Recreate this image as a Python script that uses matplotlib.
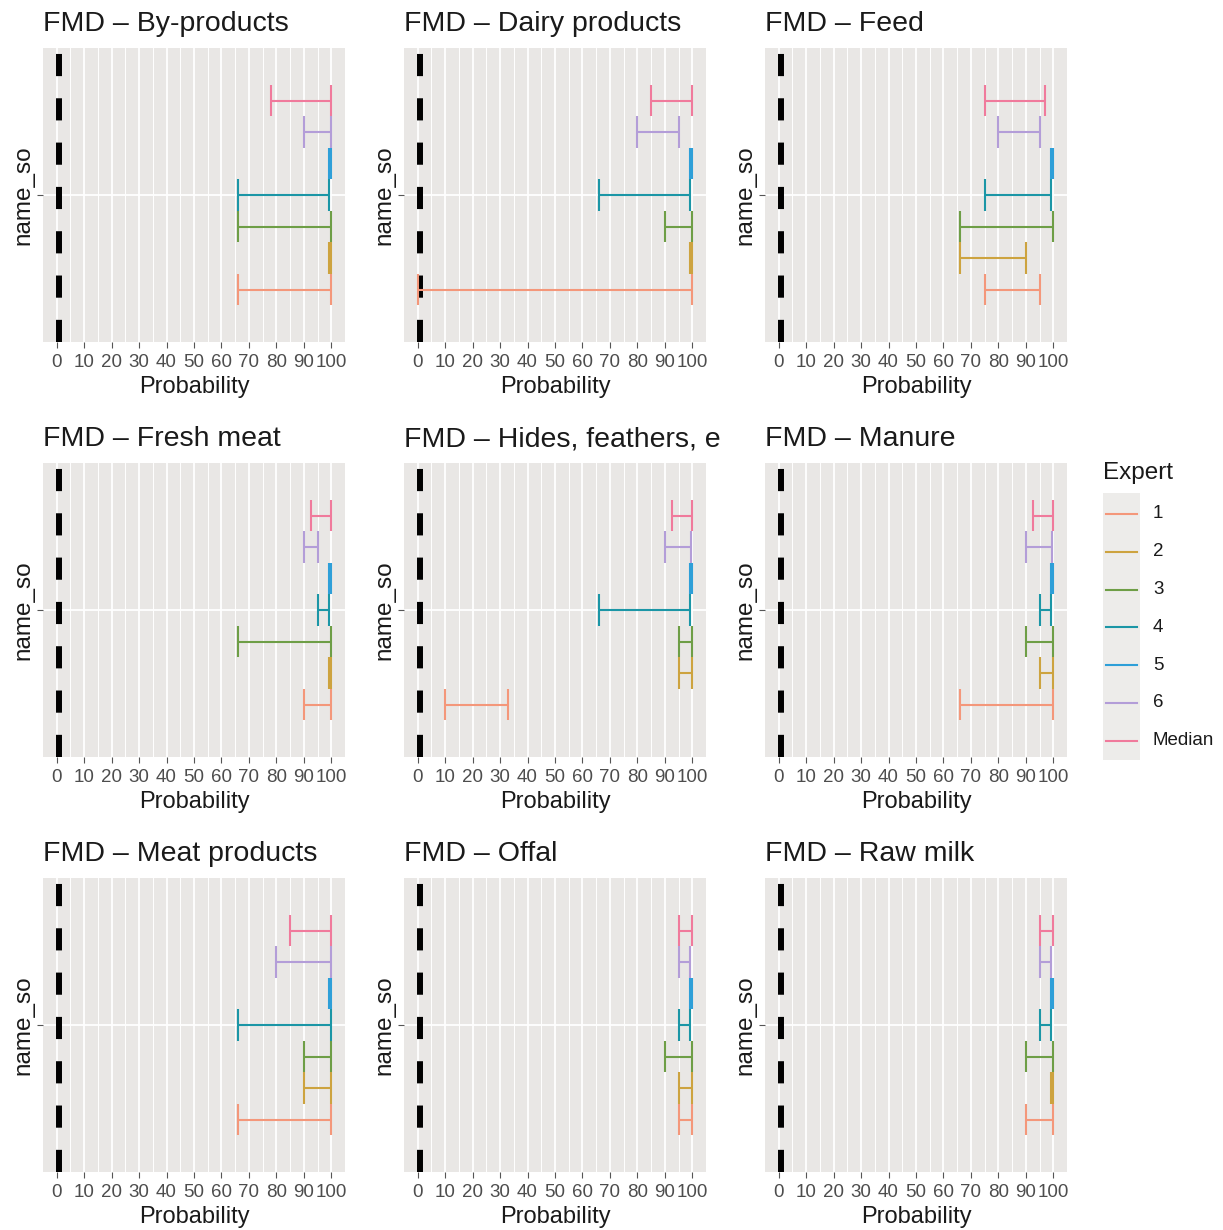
import matplotlib.pyplot as plt
from matplotlib.patches import Rectangle
import numpy as np

plt.rcParams['font.family'] = ['Liberation Sans', 'DejaVu Sans']

W, H = 1223, 1230
fig = plt.figure(figsize=(W / 100, H / 100), dpi=100)
fig.patch.set_facecolor('white')

# Panels (facet titles) and experts
products = ['By-products', 'Dairy products', 'Feed',
            'Fresh meat', 'Hides, feathers, e', 'Manure',
            'Meat products', 'Offal', 'Raw milk']
experts = ['1', '2', '3', '4', '5', '6', 'Median']
colors = ['#F4977A', '#CDA33F', '#6E9E46', '#1B96A6', '#2E9FD8', '#B39DD8', '#F07A9C']

# lower / upper bounds, one row per panel, one value per expert (1..6, Median)
lower = [
    [66, 99, 66, 66, 99, 90, 78],
    [0, 99, 90, 66, 99, 80, 85],
    [75, 66, 66, 75, 99, 80, 75],
    [90, 99, 66, 95, 99, 90, 92.5],
    [10, 95, 95, 66, 99, 90, 92.5],
    [66, 95, 90, 95, 99, 90, 92.5],
    [66, 90, 90, 66, 99, 80, 85],
    [95, 95, 90, 95, 99, 95, 95],
    [90, 99, 90, 95, 99, 95, 95],
]
upper = [
    [100, 100, 100, 99, 100, 100, 100],
    [100, 100, 100, 99, 100, 95, 100],
    [95, 90, 100, 99, 100, 95, 97],
    [100, 100, 100, 99, 100, 95, 100],
    [33, 100, 100, 99, 100, 99.5, 100],
    [100, 100, 100, 99, 100, 99.5, 100],
    [100, 100, 100, 100, 100, 100, 100],
    [100, 100, 100, 99, 100, 99, 100],
    [100, 100, 100, 99, 100, 99, 100],
]
ref_line = 1
x_ticks = list(range(0, 101, 10))

panel_bg = '#E9E7E5'
col_left = [43, 404, 765]
row_top = [48, 463, 878]
pw, ph = 302, 294

n = len(experts)
dodge = 0.9 / n
ypos = 1 + (np.arange(n) - (n - 1) / 2) * dodge

for k, prod in enumerate(products):
    r, c = divmod(k, 3)
    ax = fig.add_axes([col_left[c] / W, 1 - (row_top[r] + ph) / H, pw / W, ph / H])
    ax.set_facecolor(panel_bg)
    ax.set_xlim(-5, 105)
    ax.set_ylim(0.4, 1.6)
    for s in ax.spines.values():
        s.set_visible(False)
    # grid
    for gx in range(5, 100, 10):
        ax.axvline(gx, color='white', lw=0.7, zorder=0)
    for gx in x_ticks:
        ax.axvline(gx, color='white', lw=1.3, zorder=0)
    ax.axhline(1, color='white', lw=1.3, zorder=0)

    ax.axvline(ref_line, color='black', lw=4.3, dashes=(3.71, 3.71), zorder=2)

    for i in range(n):
        lo, hi = lower[k][i], upper[k][i]
        y = ypos[i]
        ax.hlines(y, lo, hi, color=colors[i], lw=1.5, zorder=3)
        ax.vlines([lo, hi], y - dodge / 2, y + dodge / 2, color=colors[i], lw=1.5, zorder=3)

    ax.set_xticks(x_ticks)
    ax.set_xticklabels([str(t) for t in x_ticks])
    ax.set_yticks([1])
    ax.set_yticklabels([''])
    ax.tick_params(axis='both', length=4, color='#555555', labelcolor='#4D4D4D',
                   labelsize=13.5, pad=4.5)
    ax.set_xlabel('Probability', fontsize=17, labelpad=4, color='#1A1A1A')
    ax.set_ylabel('name_so', fontsize=17.5, labelpad=-2, color='#1A1A1A')
    ax.set_title('FMD \u2013 ' + prod, loc='left', fontsize=20.5, pad=12, color='#1A1A1A')

# legend
lax = fig.add_axes([1098 / W, 1 - 770 / H, 125 / W, 310 / H])
lax.set_xlim(1098, 1223)
lax.set_ylim(770, 460)
lax.axis('off')
lax.text(1103, 473, 'Expert', fontsize=17.5, va='center', ha='left', color='#1A1A1A')
lax.add_patch(Rectangle((1103, 493), 37, 267, facecolor='#EDECEA', edgecolor='none'))
for i, (e, col) in enumerate(zip(experts, colors)):
    yk = 514 + i * 37.8
    lax.plot([1106, 1137], [yk, yk], color=col, lw=1.5)
    lax.text(1153, yk, e, fontsize=13.5, va='center', ha='left', color='#1A1A1A')

fig.savefig('out.png', dpi=100, facecolor='white')
